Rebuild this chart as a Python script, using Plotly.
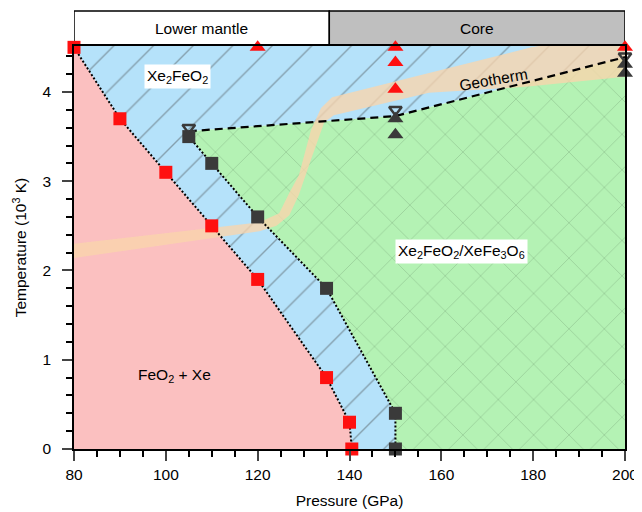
import plotly.graph_objects as go

# ---- data ----
P_red = [80, 90, 100, 110, 120, 135, 140, 140.5]
T_red = [4.5, 3.7, 3.1, 2.5, 1.9, 0.8, 0.3, 0.0]

P_blk = [105, 110, 120, 135, 150, 150]
T_blk = [3.5, 3.2, 2.6, 1.8, 0.4, 0.0]

P_dash = [105, 150, 200]
T_dash = [3.56, 3.73, 4.39]

P_tri_red = [120, 150, 150, 150, 200]
T_tri_red = [4.5, 4.5, 4.33, 4.03, 4.5]

P_tri_blk = [150, 150, 200, 200]
T_tri_blk = [3.70, 3.52, 4.31, 4.21]

P_tri_dn = [105, 150, 200]
T_tri_dn = [3.60, 3.80, 4.40]

# geotherm band outline (upper edge left->right, then lower edge right->left)
P_geo = [80, 120.4, 124.7, 126.9, 129.0, 131.6, 133.8, 136.2, 179.6, 200,
         200, 179, 157.3, 136.6, 134.5, 131.6, 129.0, 126.9, 124.1, 120.4, 80]
T_geo = [2.30, 2.54, 2.64, 2.87, 3.07, 3.57, 3.82, 3.94, 4.5, 4.69,
         4.17, 4.06, 3.99, 3.74, 3.66, 3.24, 2.85, 2.62, 2.50, 2.44, 2.14]

x_ticks = [80, 100, 120, 140, 160, 180, 200]
y_ticks = [0, 1, 2, 3, 4]
CMB = 135.6

PINK = 'rgb(251,192,192)'
BLUE = 'rgb(181,226,250)'
GREEN = 'rgb(180,242,180)'

fig = go.Figure()

# FeO2 + Xe region
fig.add_trace(go.Scatter(
    x=[80] + P_red + [80], y=[0] + T_red + [0],
    fill='toself', fillcolor=PINK, mode='none', hoverinfo='skip', showlegend=False))

# Xe2FeO2 region (hatched)
bx = P_red + [150] + P_blk[::-1][1:] + P_dash + [200, 80]
by = T_red + [0] + T_blk[::-1][1:] + T_dash + [4.7, 4.7]
fig.add_trace(go.Scatter(
    x=bx, y=by, fill='toself', fillcolor=BLUE, mode='none', hoverinfo='skip',
    fillpattern=dict(shape='/', bgcolor=BLUE, fgcolor='rgba(60,60,60,0.8)',
                     size=28, solidity=0.05),
    showlegend=False))

# Xe2FeO2/XeFe3O6 region (crosshatched)
gx = P_blk[::-1] + P_dash + [200]
gy = T_blk[::-1] + T_dash + [0]
fig.add_trace(go.Scatter(
    x=gx, y=gy, fill='toself', fillcolor=GREEN, mode='none', hoverinfo='skip',
    fillpattern=dict(shape='x', bgcolor=GREEN, fgcolor='rgba(80,110,80,0.7)',
                     size=25, solidity=0.05),
    showlegend=False))

# geotherm band
fig.add_trace(go.Scatter(
    x=P_geo, y=T_geo, fill='toself', fillcolor='rgba(250,213,172,0.78)',
    mode='none', hoverinfo='skip', showlegend=False))

# boundaries
fig.add_trace(go.Scatter(x=P_red, y=T_red, mode='lines',
                         line=dict(color='black', width=2, dash='2px,2px'),
                         showlegend=False, hoverinfo='skip'))
fig.add_trace(go.Scatter(x=P_blk, y=T_blk, mode='lines',
                         line=dict(color='black', width=2, dash='2px,2px'),
                         showlegend=False, hoverinfo='skip'))
fig.add_trace(go.Scatter(x=P_dash, y=T_dash, mode='lines',
                         line=dict(color='black', width=2.2, dash='8px,5px'),
                         showlegend=False, hoverinfo='skip'))

# markers
fig.add_trace(go.Scatter(x=P_red, y=T_red, mode='markers', cliponaxis=False,
                         marker=dict(symbol='square', size=13, color='#ff1010'),
                         showlegend=False))
fig.add_trace(go.Scatter(x=P_blk, y=T_blk, mode='markers', cliponaxis=False,
                         marker=dict(symbol='square', size=13, color='#3a3a3a'),
                         showlegend=False))
fig.add_trace(go.Scatter(x=P_tri_red, y=T_tri_red, mode='markers', cliponaxis=False,
                         marker=dict(symbol='triangle-up', size=14, color='#ff1010'),
                         showlegend=False))
fig.add_trace(go.Scatter(x=P_tri_blk, y=T_tri_blk, mode='markers', cliponaxis=False,
                         marker=dict(symbol='triangle-up', size=14, color='#3a3a3a'),
                         showlegend=False))
fig.add_trace(go.Scatter(x=P_tri_dn, y=T_tri_dn, mode='markers', cliponaxis=False,
                         marker=dict(symbol='triangle-down-open', size=11, color='#3a3a3a',
                                     line=dict(width=2.5, color='#3a3a3a')),
                         showlegend=False))

FONT = 'Liberation Sans, Arial, sans-serif'
FS = 15.5

# header bar
fig.add_shape(type='rect', xref='x', yref='paper', x0=80, x1=CMB, y0=1, y1=1.087,
              fillcolor='white', line=dict(color='black', width=1.5), layer='below')
fig.add_shape(type='rect', xref='x', yref='paper', x0=CMB, x1=200, y0=1, y1=1.087,
              fillcolor='#bfbfbf', line=dict(color='black', width=1.5), layer='below')
fig.add_annotation(x=(80 + CMB) / 2, y=1.0435, xref='x', yref='paper', text='Lower mantle',
                   yanchor='middle', xanchor='center',
                   showarrow=False, font=dict(size=FS, color='black', family=FONT))
fig.add_annotation(x=(CMB + 200) / 2, y=1.0435, xref='x', yref='paper', text='Core',
                   yanchor='middle', xanchor='center',
                   showarrow=False, font=dict(size=FS, color='black', family=FONT))

# region labels
fig.add_annotation(x=102.6, y=4.17, text='Xe<sub>2</sub>FeO<sub>2</sub>', showarrow=False,
                   bgcolor='white', borderpad=2, font=dict(size=FS, color='black', family=FONT))
fig.add_annotation(x=101.9, y=0.82, text='FeO<sub>2</sub> + Xe', showarrow=False,
                   font=dict(size=FS, color='black', family=FONT))
fig.add_annotation(x=164.4, y=2.21, text='Xe<sub>2</sub>FeO<sub>2</sub>/XeFe<sub>3</sub>O<sub>6</sub>',
                   showarrow=False, bgcolor='white', borderpad=2,
                   font=dict(size=FS, color='black', family=FONT))
fig.add_annotation(x=171.4, y=4.14, text='Geotherm', showarrow=False, textangle=-10,
                   font=dict(size=FS, color='black', family=FONT))

fig.update_layout(
    width=642, height=512,
    margin=dict(l=66, r=15, t=38, b=71),
    paper_bgcolor='white', plot_bgcolor='white',
    font=dict(family=FONT, size=15.5, color='black'),
    showlegend=False,
    xaxis=dict(range=[80, 200], tickvals=x_ticks, ticks='outside', ticklen=10, tickwidth=1.5,
               showline=True, linecolor='black', linewidth=1.5, mirror=True,
               showgrid=False, zeroline=False, ticklabelstandoff=1,
               minor=dict(dtick=5, ticks='outside', ticklen=6, tickwidth=1.5, tickcolor='black'),
               title=dict(text='Pressure (GPa)', font=dict(size=FS), standoff=13),
               tickfont=dict(size=15.5)),
    yaxis=dict(range=[0, 4.515], tickvals=y_ticks, ticks='outside', ticklen=10, tickwidth=1.5,
               showline=True, linecolor='black', linewidth=1.5, mirror=True,
               showgrid=False, zeroline=False, ticklabelstandoff=8,
               minor=dict(dtick=0.2, ticks='outside', ticklen=6, tickwidth=1.5, tickcolor='black'),
               title=dict(text='Temperature (10<sup>3</sup> K)', font=dict(size=FS), standoff=12),
               tickfont=dict(size=15.5)),
)

fig.write_html('out.html')
